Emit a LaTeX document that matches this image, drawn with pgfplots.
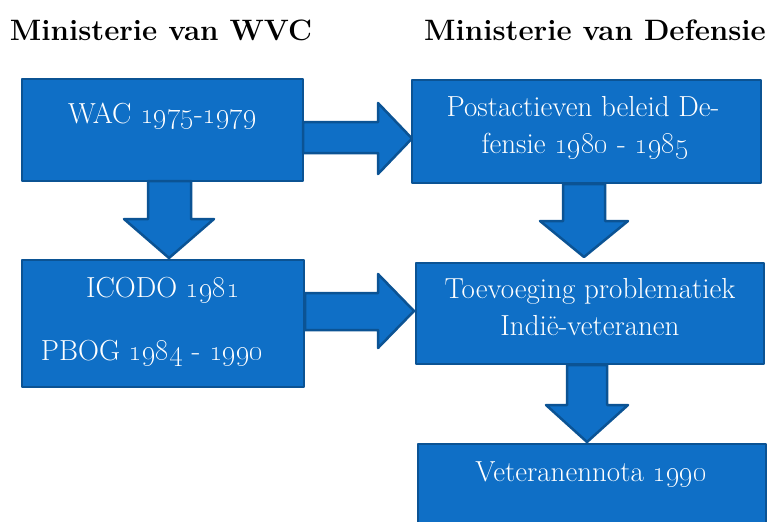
\documentclass[border=0pt]{standalone}
\usepackage{pgfplots}
\pgfplotsset{compat=1.18}
\definecolor{boxfill}{HTML}{0F6FC6}
\definecolor{boxline}{HTML}{0B5394}
\tikzset{
  myshape/.style={fill=boxfill, draw=boxline, line width=2.5pt, line join=round},
  mytext/.style={text=white, anchor=base, font=\fontsize{29}{37}\selectfont},
  mytitle/.style={text=black, anchor=base, font=\fontsize{29.5}{35}\selectfont\bfseries},
}
\newcommand{\os}[1]{\oldstylenums{#1}}
\begin{document}
\begin{tikzpicture}
\begin{axis}[
  width=779pt, height=522pt, scale only axis,
  xmin=0, xmax=779, ymin=0, ymax=522, y dir=reverse,
  hide axis, clip=true,
]
\path (axis cs:0,0) rectangle (axis cs:779,522);
% boxes
\addplot[myshape] coordinates {(22,79) (303,79) (303,181) (22,181)} -- cycle;
\addplot[myshape] coordinates {(22,260) (304,260) (304,387) (22,387)} -- cycle;
\addplot[myshape] coordinates {(412,80) (761,80) (761,183) (412,183)} -- cycle;
\addplot[myshape] coordinates {(416,263) (764,263) (764,364) (416,364)} -- cycle;
\addplot[myshape] coordinates {(418,444) (766,444) (766,545) (418,545)} -- cycle;
% right arrows
\addplot[myshape] coordinates {(303,122) (378,122) (378,103) (412,138.5) (378,174) (378,153) (303,153)} -- cycle;
\addplot[myshape] coordinates {(305,293) (378,293) (378,274) (414,311) (378,348) (378,330) (305,330)} -- cycle;
% down arrows
\addplot[myshape] coordinates {(148,181) (191,181) (191,219) (214,219) (169,258) (124,219) (148,219)} -- cycle;
\addplot[myshape] coordinates {(563,184) (605,184) (605,221) (628,221) (584,257) (540,221) (563,221)} -- cycle;
\addplot[myshape] coordinates {(567,365) (607,365) (607,405) (628,405) (587,442) (546,405) (567,405)} -- cycle;
% titles
\node[mytitle] at (axis cs:161,40) {Ministerie van WVC};
\node[mytitle] at (axis cs:595,40) {Ministerie van Defensie};
% box texts
\node[mytext] at (axis cs:162.5,123) {WAC \os{1975}-\os{1979}};
\node[mytext] at (axis cs:583,116) {Postactieven beleid De-};
\node[mytext] at (axis cs:585,153) {fensie \os{1980} - \os{1985}};
\node[mytext] at (axis cs:163,297) {ICODO \os{1981}};
\node[mytext] at (axis cs:152,360) {PBOG \os{1984} - \os{1990}};
\node[mytext] at (axis cs:590,298) {Toevoeging problematiek};
\node[mytext] at (axis cs:590,335) {Indi\"e-veteranen};
\node[mytext] at (axis cs:591,481) {Veteranennota \os{1990}};
\end{axis}
\end{tikzpicture}
\end{document}
